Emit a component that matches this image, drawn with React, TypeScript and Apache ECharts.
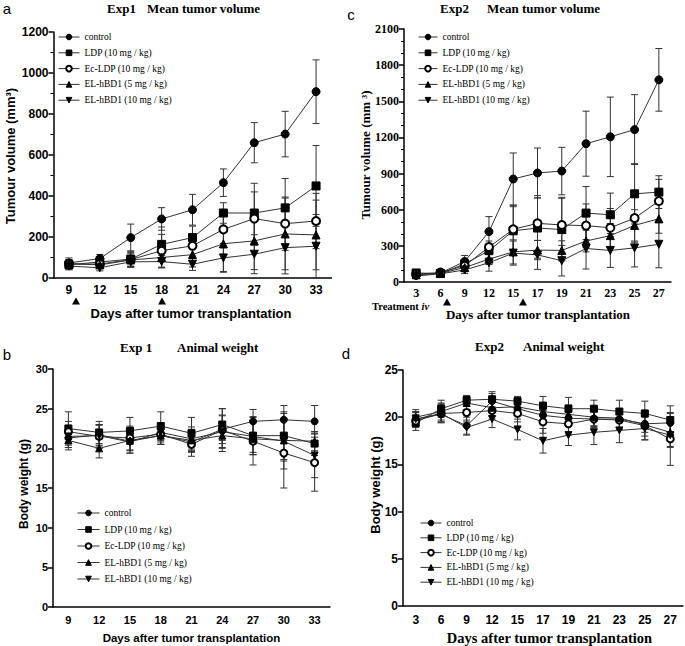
import React, { useEffect, useRef } from 'react';
import * as echarts from 'echarts';

// ---------- data ----------
const seriesNames = [
  'control',
  'LDP (10 mg / kg)',
  'Ec-LDP (10 mg / kg)',
  'EL-hBD1 (5 mg / kg)',
  'EL-hBD1 (10 mg / kg)',
];
const seriesSymbols = ['circle', 'rect', 'emptyCircle', 'triangle', 'path://M0,0L10,0L5,9Z'];

const exp1Days = ['9', '12', '15', '18', '21', '24', '27', '30', '33'];
const exp2Days = ['3', '6', '9', '12', '15', '17', '19', '21', '23', '25', '27'];

// Exp1 mean tumour volume (mm3)
const volA_control = [73, 95, 197, 288, 333, 465, 660, 702, 909];
const volA_controlErr = [25, 20, 66, 55, 75, 67, 98, 111, 155];
const volA_LDP = [65, 78, 92, 164, 197, 317, 317, 342, 449];
const volA_LDPErr = [25, 25, 40, 85, 56, 50, 145, 143, 197];
const volA_Ec = [68, 68, 90, 133, 157, 237, 290, 265, 278];
const volA_EcErr = [20, 20, 35, 80, 50, 90, 130, 130, 135];
const volA_T5 = [70, 64, 88, 100, 114, 167, 181, 215, 210];
const volA_T5Err = [18, 18, 30, 50, 60, 135, 140, 175, 170];
const volA_T10 = [58, 50, 79, 80, 67, 98, 116, 148, 155];
const volA_T10Err = [15, 15, 25, 30, 30, 70, 95, 128, 155];

// Exp2 mean tumour volume (mm3)
const volC_control = [55, 75, 170, 418, 855, 905, 921, 1148, 1205, 1265, 1678];
const volC_controlErr = [15, 20, 50, 125, 216, 207, 197, 270, 330, 290, 260];
const volC_LDP = [75, 70, 150, 260, 425, 448, 435, 572, 558, 732, 746];
const volC_LDPErr = [15, 15, 40, 60, 200, 250, 260, 220, 180, 250, 136];
const volC_Ec = [65, 78, 135, 290, 437, 487, 473, 468, 450, 530, 672];
const volC_EcErr = [15, 15, 40, 50, 200, 230, 230, 180, 160, 200, 180];
const volC_T5 = [60, 72, 120, 190, 250, 265, 262, 340, 385, 470, 525];
const volC_T5Err = [12, 12, 35, 45, 100, 80, 80, 90, 100, 130, 120];
const volC_T10 = [50, 68, 100, 160, 240, 225, 177, 278, 262, 283, 313];
const volC_T10Err = [12, 12, 30, 70, 100, 120, 127, 170, 141, 158, 195];

// Exp1 body weight (g)
const wtB_control = [21.3, 21.7, 20.9, 21.6, 20.8, 22.4, 23.4, 23.6, 23.4];
const wtB_controlErr = [1.2, 1.3, 1.5, 1.1, 1.3, 1.8, 1.5, 1.8, 2.0];
const wtB_LDP = [22.5, 22.0, 22.2, 22.8, 21.9, 23.0, 21.6, 21.6, 20.6];
const wtB_LDPErr = [2.1, 1.4, 1.7, 1.8, 2.0, 2.0, 2.4, 3.0, 1.5];
const wtB_Ec = [22.1, 21.5, 21.3, 21.8, 20.5, 22.3, 20.9, 19.4, 18.2];
const wtB_EcErr = [1.3, 1.5, 1.5, 1.3, 1.5, 2.7, 3.0, 4.4, 3.6];
const wtB_T5 = [21.0, 20.0, 21.0, 21.6, 21.0, 21.6, 21.2, 21.0, 20.9];
const wtB_T5Err = [1.2, 1.2, 1.3, 1.1, 1.4, 1.6, 2.0, 2.6, 1.2];
const wtB_T10 = [21.5, 21.6, 20.8, 22.0, 21.2, 22.1, 21.5, 20.9, 19.1];
const wtB_T10Err = [1.4, 1.3, 1.4, 1.2, 1.5, 2.0, 2.0, 3.5, 2.8];

// Exp2 body weight (g)
const wtD_control = [19.8, 20.3, 19.1, 21.7, 20.9, 20.2, 19.9, 19.8, 19.8, 19.3, 19.4];
const wtD_controlErr = [0.7, 0.8, 0.9, 0.8, 0.7, 0.9, 0.8, 0.8, 0.9, 0.9, 1.0];
const wtD_LDP = [19.4, 20.9, 21.8, 21.9, 21.7, 21.2, 20.9, 20.9, 20.6, 20.4, 19.7];
const wtD_LDPErr = [0.8, 0.9, 0.5, 0.8, 0.5, 1.0, 1.2, 0.9, 1.2, 1.3, 1.5];
const wtD_Ec = [19.6, 20.4, 20.5, 20.7, 20.4, 19.5, 19.3, 19.8, 19.7, 19.1, 17.7];
const wtD_EcErr = [0.7, 1.0, 1.0, 0.9, 0.9, 1.2, 1.2, 0.9, 1.0, 1.5, 2.8];
const wtD_T5 = [20.0, 20.6, 21.5, 21.0, 21.1, 20.6, 20.3, 20.0, 19.9, 19.2, 18.4];
const wtD_T5Err = [0.8, 0.9, 0.7, 0.9, 0.8, 1.0, 1.0, 0.9, 1.0, 1.2, 1.5];
const wtD_T10 = [19.8, 20.4, 18.9, 19.8, 18.7, 17.5, 18.1, 18.4, 18.6, 18.8, 18.1];
const wtD_T10Err = [0.8, 0.9, 0.8, 0.9, 1.1, 1.3, 1.1, 1.3, 1.3, 1.2, 1.3];

const panelMeans = [
  [volA_control, volA_LDP, volA_Ec, volA_T5, volA_T10],
  [volC_control, volC_LDP, volC_Ec, volC_T5, volC_T10],
  [wtB_control, wtB_LDP, wtB_Ec, wtB_T5, wtB_T10],
  [wtD_control, wtD_LDP, wtD_Ec, wtD_T5, wtD_T10],
];
const panelErrs = [
  [volA_controlErr, volA_LDPErr, volA_EcErr, volA_T5Err, volA_T10Err],
  [volC_controlErr, volC_LDPErr, volC_EcErr, volC_T5Err, volC_T10Err],
  [wtB_controlErr, wtB_LDPErr, wtB_EcErr, wtB_T5Err, wtB_T10Err],
  [wtD_controlErr, wtD_LDPErr, wtD_EcErr, wtD_T5Err, wtD_T10Err],
];

// ---------- styling ----------
const SANS = '"Liberation Sans", Arial, sans-serif';
const SERIF = '"Liberation Serif", "Times New Roman", serif';

const gridDefs = [
  { left: 53.5, top: 32, width: 278, height: 246 },
  { left: 404, top: 29, width: 267, height: 253 },
  { left: 53, top: 369, width: 277, height: 238 },
  { left: 403, top: 370, width: 280, height: 236 },
];
const panelDays = [exp1Days, exp2Days, exp1Days, exp2Days];
const yDefs = [
  { min: 0, max: 1200, interval: 200, minor: 2, font: SANS, size: 12 },
  { min: 0, max: 2100, interval: 300, minor: 3, font: SERIF, size: 12 },
  { min: 0, max: 30, interval: 5, minor: 0, font: SANS, size: 11 },
  { min: 0, max: 25, interval: 5, minor: 0, font: SANS, size: 12 },
];
const xFonts = [
  { font: SANS, size: 12, margin: 6 },
  { font: SERIF, size: 12, margin: 5 },
  { font: SANS, size: 11, margin: 7 },
  { font: SANS, size: 12, margin: 8 },
];
const symbolSizes = [8, 8, 7, 7];

const legendDefs = [
  { left: 58, top: 31, itemWidth: 21, itemGap: 3.8 },
  { left: 418, top: 31, itemWidth: 19, itemGap: 3.8 },
  { left: 77, top: 507, itemWidth: 22, itemGap: 4.5 },
  { left: 420, top: 517, itemWidth: 21, itemGap: 2.8 },
];

function errorRender(params: any, api: any) {
  const x = api.value(0);
  const lo = api.coord([x, api.value(1)]);
  const hi = api.coord([x, api.value(2)]);
  const w = 3.5;
  const st = { stroke: '#333', lineWidth: 1 };
  return {
    type: 'group',
    children: [
      { type: 'line', shape: { x1: lo[0], y1: lo[1], x2: hi[0], y2: hi[1] }, style: st },
      { type: 'line', shape: { x1: hi[0] - w, y1: hi[1], x2: hi[0] + w, y2: hi[1] }, style: st },
      { type: 'line', shape: { x1: lo[0] - w, y1: lo[1], x2: lo[0] + w, y2: lo[1] }, style: st },
    ],
  };
}

function txt(text: string, x: number, y: number, font: string, size: number, weight: string, extra: any = {}) {
  return {
    type: 'text',
    x,
    y,
    rotation: extra.rotation || 0,
    style: {
      text,
      fill: '#000',
      fontFamily: font,
      fontSize: size,
      fontWeight: weight,
      fontStyle: extra.fontStyle || 'normal',
      textAlign: extra.align || 'center',
      textVerticalAlign: 'middle',
      rich: extra.rich,
    },
  };
}

function tri(x: number, y: number) {
  return {
    type: 'polygon',
    shape: { points: [[x - 4, y + 3.5], [x + 4, y + 3.5], [x, y - 3.5]] },
    style: { fill: '#000' },
  };
}

export default function App() {
  const ref = useRef<HTMLDivElement>(null);
  useEffect(() => {
    if (!ref.current) return;
    const chart = echarts.init(ref.current, undefined, { renderer: 'svg' });

    const series: any[] = [];
    for (let g = 0; g < 4; g++) {
      for (let i = 0; i < 5; i++) {
        const means = panelMeans[g][i];
        const errs = panelErrs[g][i];
        series.push({
          type: 'custom',
          xAxisIndex: g,
          yAxisIndex: g,
          silent: true,
          clip: false,
          z: 2,
          renderItem: errorRender,
          data: means.map((v, j) => [j, v - errs[j], v + errs[j]]),
        });
        series.push({
          type: 'line',
          name: seriesNames[i],
          xAxisIndex: g,
          yAxisIndex: g,
          data: means,
          symbol: seriesSymbols[i],
          symbolSize: symbolSizes[g],
          showAllSymbol: true,
          z: 3,
          itemStyle: { color: '#000', borderColor: '#000', borderWidth: 1 },
          lineStyle: { color: '#333', width: 1 },
        });
      }
    }

    const option: any = {
      animation: false,
      backgroundColor: '#fff',
      grid: gridDefs.map((d) => ({ ...d, containLabel: false })),
      xAxis: gridDefs.map((_, g) => ({
        type: 'category',
        gridIndex: g,
        data: panelDays[g],
        boundaryGap: true,
        axisLine: { lineStyle: { color: '#000', width: 1.5 } },
        axisTick: { alignWithLabel: true, length: 5, lineStyle: { color: '#000', width: 1.5 } },
        axisLabel: {
          color: '#000',
          fontFamily: xFonts[g].font,
          fontSize: xFonts[g].size,
          fontWeight: 'bold',
          margin: xFonts[g].margin,
          interval: 0,
        },
        splitLine: { show: false },
      })),
      yAxis: yDefs.map((d, g) => ({
        type: 'value',
        gridIndex: g,
        min: d.min,
        max: d.max,
        interval: d.interval,
        axisLine: { show: true, lineStyle: { color: '#000', width: 1.5 } },
        axisTick: { show: true, length: 5, lineStyle: { color: '#000', width: 1.5 } },
        minorTick: d.minor ? { show: true, splitNumber: d.minor, length: 3, lineStyle: { color: '#000', width: 1 } } : { show: false },
        axisLabel: {
          color: '#000',
          fontFamily: d.font,
          fontSize: d.size,
          fontWeight: 'bold',
          margin: 5,
          formatter: (v: number) => String(v),
        },
        splitLine: { show: false },
      })),
      legend: legendDefs.map((l) => ({
        data: seriesNames,
        orient: 'vertical',
        left: l.left,
        top: l.top,
        itemWidth: l.itemWidth,
        itemHeight: 7,
        itemGap: l.itemGap,
        padding: 0,
        selectedMode: false,
        itemStyle: { borderWidth: 1 },
        lineStyle: { width: 1 },
        textStyle: { color: '#000', fontFamily: SERIF, fontSize: 9.5, lineHeight: 12 },
      })),
      series,
      graphic: [
        // panel letters
        txt('a', 7, 8, SANS, 15, 'normal'),
        txt('c', 351, 14, SANS, 15, 'normal'),
        txt('b', 7, 354, SANS, 15, 'normal'),
        txt('d', 346, 353, SANS, 15, 'normal'),
        // titles
        txt('Exp1', 107, 8, SERIF, 13, 'bold', { align: 'left' }),
        txt('Mean tumor volume', 147, 8, SERIF, 13, 'bold', { align: 'left' }),
        txt('Exp2', 440, 8, SERIF, 13, 'bold', { align: 'left' }),
        txt('Mean tumor volume', 487, 8, SERIF, 13, 'bold', { align: 'left' }),
        txt('Exp 1', 120, 347, SERIF, 13, 'bold', { align: 'left' }),
        txt('Animal weight', 177, 347, SERIF, 13, 'bold', { align: 'left' }),
        txt('Exp2', 475, 346, SERIF, 13, 'bold', { align: 'left' }),
        txt('Animal weight', 523, 346, SERIF, 13, 'bold', { align: 'left' }),
        // y axis titles
        txt('Tumour volume (mm³)', 10, 156, SANS, 13, 'bold', { rotation: Math.PI / 2 }),
        txt('Tumour volume (mm ³)', 365, 155, SERIF, 13, 'bold', { rotation: Math.PI / 2 }),
        txt('Body weight (g)', 24, 484, SANS, 12, 'bold', { rotation: Math.PI / 2 }),
        txt('Body weight (g)', 375, 485, SANS, 13, 'bold', { rotation: Math.PI / 2 }),
        // x axis titles
        txt('Days after tumor transplantation', 191, 313, SANS, 13, 'bold'),
        txt('Days after tumor transplantation', 538, 314, SERIF, 13, 'bold'),
        txt('Days after tumor transplantation', 191.5, 638, SANS, 11.5, 'bold'),
        txt('Days after tumor transplantation', 549.5, 638, SERIF, 14.5, 'bold'),
        // treatment annotation
        {
          type: 'text',
          x: 372,
          y: 306.5,
          style: {
            text: 'Treatment {i|iv}',
            fill: '#000',
            fontFamily: SERIF,
            fontSize: 10.5,
            fontWeight: 'bold',
            textAlign: 'left',
            textVerticalAlign: 'middle',
            rich: { i: { fontFamily: SERIF, fontSize: 10.5, fontWeight: 'bold', fontStyle: 'italic', fill: '#000' } },
          },
        },
        tri(76, 301),
        tri(162, 301),
        tri(447, 302),
        tri(523, 302),
      ],
    };
    chart.setOption(option);
    return () => chart.dispose();
  }, []);
  return <div ref={ref} style={{ position: 'absolute', left: 0, top: 0, width: 685, height: 646 }} />;
}
